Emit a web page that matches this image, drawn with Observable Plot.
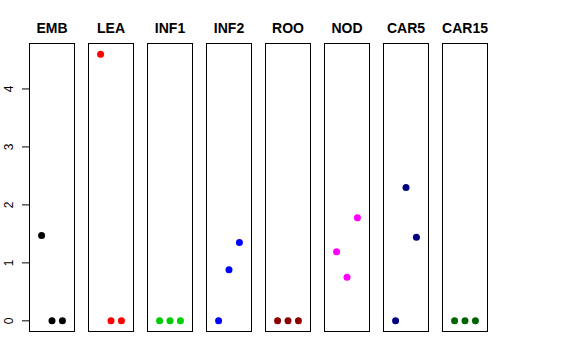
<!DOCTYPE html>
<html>
<head>
<meta charset="utf-8">
<script src="https://cdn.jsdelivr.net/npm/d3@7"></script>
<script src="https://cdn.jsdelivr.net/npm/@observablehq/plot@0.6"></script>
<style>
  html, body { margin: 0; padding: 0; background: #fff; }
  svg { display: block; }
</style>
</head>
<body>
<div id="chart"></div>
<script>
const tissues = ["EMB", "LEA", "INF1", "INF2", "ROO", "NOD", "CAR5", "CAR15"];
const colors  = ["#000000", "#FF0000", "#00CD00", "#0000FF", "#8B0000", "#FF00FF", "#000080", "#006400"];
const reps = [1, 2, 3];
const rep1 = [1.47, 4.60, 0, 0,    0, 1.19, 0,    0];
const rep2 = [0,    0,    0, 0.88, 0, 0.75, 2.30, 0];
const rep3 = [0,    0,    0, 1.35, 0, 1.78, 1.44, 0];
const yTicks = [0, 1, 2, 3, 4];

const data = [];
tissues.forEach((t, i) => {
  [rep1, rep2, rep3].forEach((s, j) => {
    data.push({tissue: t, rep: reps[j], value: s[i], color: colors[i]});
  });
});

const font = "Liberation Sans, Arial, Helvetica, sans-serif";

const chart = Plot.plot({
  width: 576,
  height: 360,
  marginLeft: 29,
  marginRight: 88,
  marginTop: 43,
  marginBottom: 29,
  style: {fontFamily: font, fontSize: "12px", background: "#fff", color: "#000"},
  fx: {domain: tissues, paddingInner: 0.237, paddingOuter: 0, label: null},
  x: {domain: [-0.16, 4.16], axis: null},
  y: {domain: [-0.184, 4.784], axis: null},
  marks: [
    Plot.frame({stroke: "#000", strokeWidth: 1}),
    Plot.axisFx({anchor: "top", tickSize: 0, tickPadding: 9, dy: -2, fontSize: 14, fontWeight: "bold", label: null}),
    Plot.axisY({ticks: yTicks, tickSize: 7, tickFormat: () => "", label: null, anchor: "left"}),
    Plot.text(yTicks, {
      fx: () => tissues[0],
      y: d => d,
      text: d => String(d),
      frameAnchor: "left",
      dx: -20,
      rotate: -90,
      textAnchor: "middle",
      fontSize: 12
    }),
    Plot.dot(data, {fx: "tissue", x: "rep", y: "value", r: 3.5, fill: "color", stroke: null})
  ]
});
document.getElementById("chart").appendChild(chart);
</script>
</body>
</html>
